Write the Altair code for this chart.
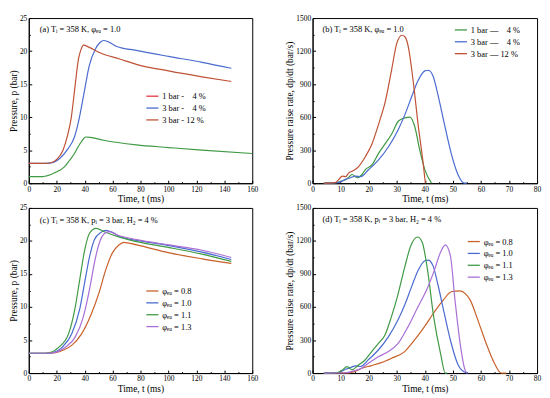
import altair as alt
import pandas as pd

# ---------------- data ----------------
# (a) pressure vs time
a_series = ["1 bar -\u2007\u20074 %", "3 bar -\u2007\u20074 %", "3 bar - 12 %"]
a_t_1b4 = [0, 10, 18.7, 25.7, 29, 32.7, 35, 37.4, 39.5, 40.9, 45, 53.7, 77, 100, 124, 160]
a_p_1b4 = [1.0, 1.0, 1.6, 2.5, 3.4, 4.5, 5.4, 6.2, 6.8, 7.0, 6.9, 6.5, 5.8, 5.4, 5.0, 4.5]
a_t_3b4 = [0, 12, 18, 23.4, 28, 32.7, 36.2, 39.7, 43.2, 47.9, 51, 53.7, 57, 63, 77, 100, 124, 145]
a_p_3b4 = [3.0, 3.0, 3.2, 4.0, 5.2, 7.0, 9.9, 13.8, 17.7, 20.4, 21.3, 21.6, 21.4, 20.7, 20.1, 19.2, 18.3, 17.4]
a_t_3b12 = [0, 10, 16, 20, 24.5, 27.5, 30.4, 33.2, 35.5, 37.5, 39.2, 43, 51.4, 65, 77, 100, 124, 145]
a_p_3b12 = [3.0, 3.0, 3.1, 3.6, 5.0, 7.0, 9.9, 14.8, 18.7, 20.3, 20.9, 20.6, 19.7, 18.8, 18.0, 17.0, 16.1, 15.4]

# (b) pressure rise rate vs time
b_series = ["1 bar \u2014\u2007\u20074 %", "3 bar \u2014\u2007\u20074 %", "3 bar \u2014 12 %"]
b_t_1b4 = [4, 8, 10.6, 12.5, 14.1, 15.9, 17.6, 18.8, 21.2, 23.5, 25.9, 28.2, 30.6, 32.9, 34.7, 36.5, 38.2, 40, 42.4]
b_r_1b4 = [0, 5, 20, 45, 79, 50, 79, 124, 168, 271, 359, 447, 565, 594, 600, 506, 300, 124, 0]
b_t_3b4 = [4, 9, 11.8, 13.5, 15.3, 17.1, 20, 23.5, 27, 30.6, 32.9, 35.3, 37.6, 40, 41.2, 42.9, 44.7, 47, 49.4, 51.8, 54.1, 55]
b_r_3b4 = [0, 5, 35, 50, 65, 60, 124, 212, 329, 491, 623, 785, 932, 1020, 1026, 976, 800, 535, 271, 79, 0, 0]
b_t_3b12 = [4, 8, 9.4, 10.6, 11.8, 12.9, 14.1, 15.9, 18.8, 21.2, 23.5, 25.9, 28.2, 30, 31.8, 32.9, 34.1, 35.9, 37.6, 39.4, 40.2]
b_r_3b12 = [0, 5, 35, 65, 60, 94, 109, 138, 241, 359, 535, 741, 1035, 1270, 1344, 1330, 1241, 918, 535, 182, 0]

# (c) pressure vs time for equivalence ratios
phi_series = ["\u03c6\u2091\u1d64 = 0.8", "\u03c6\u2091\u1d64 = 1.0", "\u03c6\u2091\u1d64 = 1.1", "\u03c6\u2091\u1d64 = 1.3"]
c_t_08 = [0, 12, 19.1, 25, 30.7, 37.7, 44.7, 50.5, 55.2, 59.9, 64.5, 68, 77.3, 100.6, 124, 145]
c_p_08 = [3.0, 3.0, 3.1, 3.5, 4.2, 5.9, 8.9, 12.3, 15.7, 18.2, 19.4, 19.8, 19.4, 18.2, 17.3, 16.6]
c_t_10 = [0, 12, 15.6, 23.8, 30.7, 36.6, 40.1, 43.6, 47, 51.7, 55.2, 60, 66, 77.3, 100.6, 124, 145]
c_p_10 = [3.0, 3.0, 3.05, 3.9, 5.9, 9.8, 13.8, 17.7, 20.2, 21.3, 21.6, 21.3, 20.6, 20.1, 19.3, 18.3, 17.2]
c_t_11 = [0, 12, 14.4, 21.4, 28.4, 33.1, 36.6, 40.1, 43.6, 48.2, 54, 63.3, 77.3, 100.6, 124, 145]
c_p_11 = [3.0, 3.0, 3.05, 3.9, 5.9, 9.8, 14.3, 18.7, 21.2, 21.9, 21.4, 20.7, 19.9, 19.0, 18.0, 16.9]
c_t_13 = [0, 12, 16.8, 26.1, 33.1, 38.9, 43.6, 47, 50.5, 54, 57.5, 63.3, 77.3, 100.6, 124, 145]
c_p_13 = [3.0, 3.0, 3.05, 3.9, 5.4, 8.4, 12.8, 16.7, 19.7, 21.1, 21.4, 20.9, 20.2, 19.4, 18.6, 17.5]

# (d) pressure rise rate for equivalence ratios
d_t_08 = [4, 13, 15.2, 17.5, 21, 24.5, 28, 32.7, 36.2, 39.7, 43.2, 46.7, 49.6, 52.6, 54.5, 56.1, 59, 61.9, 64.8, 67.2, 69]
d_r_08 = [0, 2, 15, 44, 68, 95, 133, 193, 296, 415, 548, 667, 741, 747, 720, 667, 474, 267, 89, 0, 0]
d_t_10 = [4, 9, 11.8, 13.5, 15.3, 17.1, 20, 23.5, 27, 30.6, 32.9, 35.3, 37.6, 40, 41.2, 42.9, 44.7, 47, 49.4, 51.8, 54.1, 55.5]
d_r_10 = [0, 5, 35, 50, 65, 60, 124, 212, 329, 491, 623, 785, 932, 1020, 1026, 976, 800, 535, 271, 79, 10, 0]
d_t_11 = [4, 9, 10.5, 12.3, 14, 16.4, 18.7, 21, 23.4, 25.7, 28, 30.4, 32.7, 35, 37.4, 39.1, 40.9, 43.2, 45.6, 47.3, 48]
d_r_11 = [0, 5, 25, 59, 30, 74, 119, 193, 267, 341, 504, 711, 948, 1156, 1236, 1186, 948, 504, 178, 0, 0]
d_t_13 = [4, 12, 14, 17.5, 19.9, 23.4, 26.9, 30.4, 33.9, 37.4, 40.9, 43.2, 45.6, 47.3, 49.1, 50.8, 52.6, 54.3, 55]
d_r_13 = [0, 3, 15, 44, 89, 148, 193, 267, 415, 593, 771, 919, 1097, 1165, 1067, 652, 267, 30, 0]

labels = [
    "(a) T\u1d62 = 358 K, \u03c6\u2091\u1d64 = 1.0",
    "(b) T\u1d62 = 358 K, \u03c6\u2091\u1d64 = 1.0",
    "(c) T\u1d62 = 358 K, p\u1d62 = 3 bar, H\u2082 = 4 %",
    "(d) T\u1d62 = 358 K, p\u1d62 = 3 bar, H\u2082 = 4 %",
]

# colours
BROWN = "#bf5236"
BLUE = "#4a6bd0"
GREEN = "#3f9a44"
PURPLE = "#a96fd6"
RED = "#e4363f"
ORANGE = "#c8602a"

FONT = "Liberation Serif"


def frame(series_names, ts, vs):
    rows = []
    for name, t, v in zip(series_names, ts, vs):
        for ti, vi in zip(t, v):
            rows.append({"series": name, "t": ti, "v": vi})
    return pd.DataFrame(rows)


def tick_axis(orient, values, size):
    return alt.Axis(orient=orient, values=values, offset=-size, tickSize=size, ticks=True,
                    labels=False, domain=False, title=None, grid=False, tickCount=40)


def panel(df, xmax, xstep, ymax, ystep, ytitle, domain, legend_range, line_range,
          lx, ly, label, lab_x, lab_y, w, h):
    xs = alt.Scale(domain=[0, xmax], nice=False, zero=False)
    ys = alt.Scale(domain=[0, ymax], nice=False, zero=False)
    xmaj = list(range(0, xmax + 1, xstep))
    ymaj = list(range(0, ymax + 1, ystep))
    xmin = [v + xstep / 2 for v in xmaj[:-1]]
    ymin = [v + ystep / 2 for v in ymaj[:-1]]
    legend = alt.Legend(orient="none", legendX=lx, legendY=ly, title=None)
    base = alt.Chart(df)
    x_main = alt.X("t:Q", scale=xs, axis=alt.Axis(values=xmaj, title="Time, t (ms)", format="d",
                                                   labelOverlap=False, tickCount=40,
                                                   labelBound=False, labelFlush=False))
    y_main = alt.Y("v:Q", scale=ys, axis=alt.Axis(values=ymaj, title=ytitle, format="d",
                                                   labelOverlap=False, tickCount=40,
                                                   labelBound=False, labelFlush=False))
    if line_range is None:
        lines = base.mark_line(strokeWidth=1.2, interpolate="monotone").encode(
            x=x_main, y=y_main,
            color=alt.Color("series:N", sort=domain,
                            scale=alt.Scale(domain=domain, range=legend_range), legend=legend))
        layers = [lines]
    else:
        lines = base.mark_line(strokeWidth=1.2, interpolate="monotone").encode(
            x=x_main, y=y_main,
            stroke=alt.Stroke("series:N", sort=domain,
                              scale=alt.Scale(range=line_range), legend=None))
        leg = base.transform_filter("datum.t < -1000").mark_line(strokeWidth=1.2).encode(
            x=alt.X("t:Q", scale=xs, axis=None), y=alt.Y("v:Q", scale=ys, axis=None),
            color=alt.Color("series:N", sort=domain,
                            scale=alt.Scale(domain=domain, range=legend_range), legend=legend))
        layers = [lines, leg]
    empty = base.transform_filter("datum.t < -1000")
    major = empty.mark_line().encode(
        x=alt.X("t:Q", scale=xs, axis=tick_axis("bottom", xmaj, 3)),
        y=alt.Y("v:Q", scale=ys, axis=tick_axis("left", ymaj, 3)))
    minor = empty.mark_line().encode(
        x=alt.X("t:Q", scale=xs, axis=tick_axis("bottom", xmin, 1.5)),
        y=alt.Y("v:Q", scale=ys, axis=tick_axis("left", ymin, 1.5)))
    txt = alt.Chart(pd.DataFrame({"label": [label]})).mark_text(
        align="left", baseline="middle", font=FONT, fontSize=8.5, color="black"
    ).encode(x=alt.value(lab_x), y=alt.value(lab_y), text="label:N")
    return alt.layer(*layers, major, minor, txt).resolve_axis(
        x="independent", y="independent").resolve_scale(color="independent", stroke="independent"
    ).properties(width=w, height=h)


df_a = frame(a_series, [a_t_1b4, a_t_3b4, a_t_3b12], [a_p_1b4, a_p_3b4, a_p_3b12])
df_b = frame(b_series, [b_t_1b4, b_t_3b4, b_t_3b12], [b_r_1b4, b_r_3b4, b_r_3b12])
df_c = frame(phi_series, [c_t_08, c_t_10, c_t_11, c_t_13], [c_p_08, c_p_10, c_p_11, c_p_13])
df_d = frame(phi_series, [d_t_08, d_t_10, d_t_11, d_t_13], [d_r_08, d_r_10, d_r_11, d_r_13])

p_a = panel(df_a, 160, 20, 25, 5, "Pressure, p (bar)", a_series,
            [RED, BLUE, BROWN], [GREEN, BLUE, BROWN], 118, 72, labels[0], 11, 11, 226, 167)
p_b = panel(df_b, 80, 10, 1500, 300, "Pressure raise rate, dp/dt (bar/s)", b_series,
            [GREEN, BLUE, BROWN], None, 143, 5, labels[1], 10, 11, 227, 167)
p_c = panel(df_c, 160, 20, 25, 5, "Pressure, p (bar)", phi_series,
            [ORANGE, BLUE, GREEN, PURPLE], None, 118, 77, labels[2], 11, 12, 226, 167)
p_d = panel(df_d, 80, 10, 1500, 300, "Pressure raise rate, dp/dt (bar/s)", phi_series,
            [ORANGE, BLUE, GREEN, PURPLE], None, 156, 27, labels[3], 10, 11, 227, 167)

chart = alt.concat(
    p_a, p_b, p_c, p_d, columns=2, spacing={"row": 25, "column": 61}, bounds="flush"
).resolve_scale(color="independent", stroke="independent", x="independent", y="independent"
).properties(padding={"top": 3, "left": 0, "right": 0, "bottom": 0}, background="white"
).configure_view(stroke="black", strokeWidth=1).configure_axis(
    labelFont=FONT, titleFont=FONT, labelFontSize=7.5, titleFontSize=9.5,
    titleFontWeight="normal", labelColor="black", titleColor="black",
    domainColor="black", tickColor="black", ticks=False, grid=False,
    labelPadding=2, titlePadding=1
).configure_legend(
    labelFont=FONT, labelFontSize=8.5, labelColor="black", symbolType="stroke",
    symbolSize=150, symbolStrokeWidth=1.3, rowPadding=0, padding=0, labelLimit=200,
    labelOffset=3
)

chart.save("out.html", embed_options={"renderer": "svg", "actions": False})
